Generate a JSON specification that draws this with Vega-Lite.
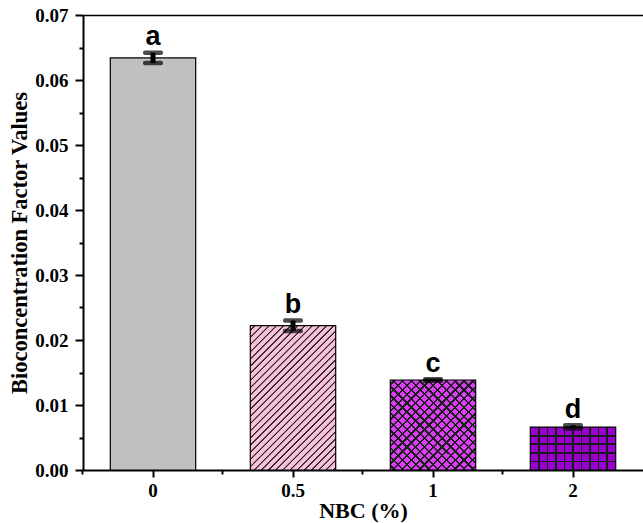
{
  "$schema": "https://vega.github.io/schema/vega-lite/v6.json",
  "width": 560,
  "height": 455,
  "autosize": {"type": "none"},
  "padding": {"left": 83, "top": 15, "right": 0, "bottom": 53},
  "background": "white",
  "config": {
    "view": {"stroke": null},
    "axis": {"domainColor": "black", "tickColor": "black", "labelColor": "black", "titleColor": "black", "grid": false}
  },
  "data": {
    "values": [
      {"NBC": "0", "BCF": 0.0634, "lo": 0.0626, "hi": 0.0642, "group": "a"},
      {"NBC": "0.5", "BCF": 0.0222, "lo": 0.0214, "hi": 0.0230, "group": "b"},
      {"NBC": "1", "BCF": 0.01385, "lo": 0.01375, "hi": 0.01395, "group": "c"},
      {"NBC": "2", "BCF": 0.0066, "lo": 0.0064, "hi": 0.0069, "group": "d"}
    ]
  },
  "encoding": {
    "x": {"field": "NBC", "type": "ordinal", "sort": null, "axis": null,
          "scale": {"domain": ["0", "0.5", "1", "2"], "paddingInner": 0.39, "paddingOuter": 0.195}},
    "y": {"field": "BCF", "type": "quantitative", "axis": null,
          "scale": {"domain": [0, 0.07], "nice": false}}
  },
  "resolve": {"axis": {"x": "independent", "y": "independent"}},
  "layer": [
    {
      "mark": {"type": "bar", "strokeWidth": 0},
      "encoding": {
        "x": {"field": "NBC", "type": "ordinal", "sort": null,
              "axis": {"orient": "bottom", "labelAngle": 0, "tickSize": 7, "tickWidth": 2, "domainWidth": 2,
                       "labelFont": "Liberation Serif", "labelFontWeight": "bold", "labelFontSize": 19, "labelPadding": 4,
                       "title": "NBC (%)", "titleFont": "Liberation Serif", "titleFontWeight": "bold", "titleFontSize": 22, "titlePadding": 0}},
        "y": {"field": "BCF", "type": "quantitative",
              "axis": {"orient": "left", "values": [0, 0.01, 0.02, 0.03, 0.04, 0.05, 0.06, 0.07], "format": ".2f",
                       "tickSize": 8, "tickWidth": 2, "domainWidth": 2,
                       "labelFont": "Liberation Serif", "labelFontWeight": "bold", "labelFontSize": 19, "labelPadding": 7,
                       "labelFlush": false, "labelOverlap": false,
                       "title": "Bioconcentration Factor Values", "titleFont": "Liberation Serif", "titleFontWeight": "bold",
                       "titleFontSize": 22.5, "titlePadding": 3}},
        "color": {"field": "NBC", "type": "nominal", "sort": null, "legend": null,
                  "scale": {"domain": ["0", "0.5", "1", "2"], "range": ["#C0C0C0", "#F8C0DA", "#DC3EF6", "#9A00CF"]}}
      }
    },
    {
      "transform": [{"filter": "datum.NBC == '0.5'"}],
      "mark": {"type": "bar", "fill": {"gradient": "linear", "x1": 0, "y1": 0, "x2": 0.698, "y2": 1.179, "stops": [
        {"offset": 0, "color": "rgba(0,0,0,0)"},
        {"offset": 0.015, "color": "rgba(0,0,0,0)"}, {"offset": 0.018, "color": "#222222"}, {"offset": 0.022, "color": "#222222"}, {"offset": 0.025, "color": "rgba(0,0,0,0)"},
        {"offset": 0.0775, "color": "rgba(0,0,0,0)"}, {"offset": 0.0805, "color": "#222222"}, {"offset": 0.0845, "color": "#222222"}, {"offset": 0.0875, "color": "rgba(0,0,0,0)"},
        {"offset": 0.14, "color": "rgba(0,0,0,0)"}, {"offset": 0.143, "color": "#222222"}, {"offset": 0.147, "color": "#222222"}, {"offset": 0.15, "color": "rgba(0,0,0,0)"},
        {"offset": 0.2025, "color": "rgba(0,0,0,0)"}, {"offset": 0.2055, "color": "#222222"}, {"offset": 0.2095, "color": "#222222"}, {"offset": 0.2125, "color": "rgba(0,0,0,0)"},
        {"offset": 0.265, "color": "rgba(0,0,0,0)"}, {"offset": 0.268, "color": "#222222"}, {"offset": 0.272, "color": "#222222"}, {"offset": 0.275, "color": "rgba(0,0,0,0)"},
        {"offset": 0.3275, "color": "rgba(0,0,0,0)"}, {"offset": 0.3305, "color": "#222222"}, {"offset": 0.3345, "color": "#222222"}, {"offset": 0.3375, "color": "rgba(0,0,0,0)"},
        {"offset": 0.39, "color": "rgba(0,0,0,0)"}, {"offset": 0.393, "color": "#222222"}, {"offset": 0.397, "color": "#222222"}, {"offset": 0.40, "color": "rgba(0,0,0,0)"},
        {"offset": 0.4525, "color": "rgba(0,0,0,0)"}, {"offset": 0.4555, "color": "#222222"}, {"offset": 0.4595, "color": "#222222"}, {"offset": 0.4625, "color": "rgba(0,0,0,0)"},
        {"offset": 0.515, "color": "rgba(0,0,0,0)"}, {"offset": 0.518, "color": "#222222"}, {"offset": 0.522, "color": "#222222"}, {"offset": 0.525, "color": "rgba(0,0,0,0)"},
        {"offset": 0.5775, "color": "rgba(0,0,0,0)"}, {"offset": 0.5805, "color": "#222222"}, {"offset": 0.5845, "color": "#222222"}, {"offset": 0.5875, "color": "rgba(0,0,0,0)"},
        {"offset": 0.64, "color": "rgba(0,0,0,0)"}, {"offset": 0.643, "color": "#222222"}, {"offset": 0.647, "color": "#222222"}, {"offset": 0.65, "color": "rgba(0,0,0,0)"},
        {"offset": 0.7025, "color": "rgba(0,0,0,0)"}, {"offset": 0.7055, "color": "#222222"}, {"offset": 0.7095, "color": "#222222"}, {"offset": 0.7125, "color": "rgba(0,0,0,0)"},
        {"offset": 0.765, "color": "rgba(0,0,0,0)"}, {"offset": 0.768, "color": "#222222"}, {"offset": 0.772, "color": "#222222"}, {"offset": 0.775, "color": "rgba(0,0,0,0)"},
        {"offset": 0.8275, "color": "rgba(0,0,0,0)"}, {"offset": 0.8305, "color": "#222222"}, {"offset": 0.8345, "color": "#222222"}, {"offset": 0.8375, "color": "rgba(0,0,0,0)"},
        {"offset": 0.89, "color": "rgba(0,0,0,0)"}, {"offset": 0.893, "color": "#222222"}, {"offset": 0.897, "color": "#222222"}, {"offset": 0.90, "color": "rgba(0,0,0,0)"},
        {"offset": 0.9525, "color": "rgba(0,0,0,0)"}, {"offset": 0.9555, "color": "#222222"}, {"offset": 0.9595, "color": "#222222"}, {"offset": 0.9625, "color": "rgba(0,0,0,0)"},
        {"offset": 1, "color": "rgba(0,0,0,0)"}
      ]}}
    },
    {
      "transform": [{"filter": "datum.NBC == '0.5'"}],
      "mark": {"type": "bar", "fill": {"gradient": "linear", "x1": 0, "y1": 0, "x2": 0.698, "y2": 1.179, "stops": [
        {"offset": 0, "color": "rgba(0,0,0,0)"},
        {"offset": 0.04625, "color": "rgba(0,0,0,0)"}, {"offset": 0.04925, "color": "#222222"}, {"offset": 0.05325, "color": "#222222"}, {"offset": 0.05625, "color": "rgba(0,0,0,0)"},
        {"offset": 0.10875, "color": "rgba(0,0,0,0)"}, {"offset": 0.11175, "color": "#222222"}, {"offset": 0.11575, "color": "#222222"}, {"offset": 0.11875, "color": "rgba(0,0,0,0)"},
        {"offset": 0.17125, "color": "rgba(0,0,0,0)"}, {"offset": 0.17425, "color": "#222222"}, {"offset": 0.17825, "color": "#222222"}, {"offset": 0.18125, "color": "rgba(0,0,0,0)"},
        {"offset": 0.23375, "color": "rgba(0,0,0,0)"}, {"offset": 0.23675, "color": "#222222"}, {"offset": 0.24075, "color": "#222222"}, {"offset": 0.24375, "color": "rgba(0,0,0,0)"},
        {"offset": 0.29625, "color": "rgba(0,0,0,0)"}, {"offset": 0.29925, "color": "#222222"}, {"offset": 0.30325, "color": "#222222"}, {"offset": 0.30625, "color": "rgba(0,0,0,0)"},
        {"offset": 0.35875, "color": "rgba(0,0,0,0)"}, {"offset": 0.36175, "color": "#222222"}, {"offset": 0.36575, "color": "#222222"}, {"offset": 0.36875, "color": "rgba(0,0,0,0)"},
        {"offset": 0.42125, "color": "rgba(0,0,0,0)"}, {"offset": 0.42425, "color": "#222222"}, {"offset": 0.42825, "color": "#222222"}, {"offset": 0.43125, "color": "rgba(0,0,0,0)"},
        {"offset": 0.48375, "color": "rgba(0,0,0,0)"}, {"offset": 0.48675, "color": "#222222"}, {"offset": 0.49075, "color": "#222222"}, {"offset": 0.49375, "color": "rgba(0,0,0,0)"},
        {"offset": 0.54625, "color": "rgba(0,0,0,0)"}, {"offset": 0.54925, "color": "#222222"}, {"offset": 0.55325, "color": "#222222"}, {"offset": 0.55625, "color": "rgba(0,0,0,0)"},
        {"offset": 0.60875, "color": "rgba(0,0,0,0)"}, {"offset": 0.61175, "color": "#222222"}, {"offset": 0.61575, "color": "#222222"}, {"offset": 0.61875, "color": "rgba(0,0,0,0)"},
        {"offset": 0.67125, "color": "rgba(0,0,0,0)"}, {"offset": 0.67425, "color": "#222222"}, {"offset": 0.67825, "color": "#222222"}, {"offset": 0.68125, "color": "rgba(0,0,0,0)"},
        {"offset": 0.73375, "color": "rgba(0,0,0,0)"}, {"offset": 0.73675, "color": "#222222"}, {"offset": 0.74075, "color": "#222222"}, {"offset": 0.74375, "color": "rgba(0,0,0,0)"},
        {"offset": 0.79625, "color": "rgba(0,0,0,0)"}, {"offset": 0.79925, "color": "#222222"}, {"offset": 0.80325, "color": "#222222"}, {"offset": 0.80625, "color": "rgba(0,0,0,0)"},
        {"offset": 0.85875, "color": "rgba(0,0,0,0)"}, {"offset": 0.86175, "color": "#222222"}, {"offset": 0.86575, "color": "#222222"}, {"offset": 0.86875, "color": "rgba(0,0,0,0)"},
        {"offset": 0.92125, "color": "rgba(0,0,0,0)"}, {"offset": 0.92425, "color": "#222222"}, {"offset": 0.92825, "color": "#222222"}, {"offset": 0.93125, "color": "rgba(0,0,0,0)"},
        {"offset": 0.98375, "color": "rgba(0,0,0,0)"}, {"offset": 0.98675, "color": "#222222"}, {"offset": 0.99075, "color": "#222222"}, {"offset": 0.99375, "color": "rgba(0,0,0,0)"},
        {"offset": 1, "color": "rgba(0,0,0,0)"}
      ]}}
    },
    {
      "transform": [{"filter": "datum.NBC == '1'"}],
      "mark": {"type": "bar", "fill": {"gradient": "linear", "x1": 0, "y1": 0, "x2": 0.973, "y2": 1.026, "stops": [
        {"offset": 0, "color": "rgba(0,0,0,0)"},
        {"offset": 0.020, "color": "rgba(0,0,0,0)"}, {"offset": 0.020, "color": "#1f1f1f"}, {"offset": 0.033, "color": "#1f1f1f"}, {"offset": 0.033, "color": "rgba(0,0,0,0)"},
        {"offset": 0.070, "color": "rgba(0,0,0,0)"}, {"offset": 0.070, "color": "#1f1f1f"}, {"offset": 0.083, "color": "#1f1f1f"}, {"offset": 0.083, "color": "rgba(0,0,0,0)"},
        {"offset": 0.120, "color": "rgba(0,0,0,0)"}, {"offset": 0.120, "color": "#1f1f1f"}, {"offset": 0.133, "color": "#1f1f1f"}, {"offset": 0.133, "color": "rgba(0,0,0,0)"},
        {"offset": 0.170, "color": "rgba(0,0,0,0)"}, {"offset": 0.170, "color": "#1f1f1f"}, {"offset": 0.183, "color": "#1f1f1f"}, {"offset": 0.183, "color": "rgba(0,0,0,0)"},
        {"offset": 0.220, "color": "rgba(0,0,0,0)"}, {"offset": 0.220, "color": "#1f1f1f"}, {"offset": 0.233, "color": "#1f1f1f"}, {"offset": 0.233, "color": "rgba(0,0,0,0)"},
        {"offset": 0.270, "color": "rgba(0,0,0,0)"}, {"offset": 0.270, "color": "#1f1f1f"}, {"offset": 0.283, "color": "#1f1f1f"}, {"offset": 0.283, "color": "rgba(0,0,0,0)"},
        {"offset": 0.320, "color": "rgba(0,0,0,0)"}, {"offset": 0.320, "color": "#1f1f1f"}, {"offset": 0.333, "color": "#1f1f1f"}, {"offset": 0.333, "color": "rgba(0,0,0,0)"},
        {"offset": 0.370, "color": "rgba(0,0,0,0)"}, {"offset": 0.370, "color": "#1f1f1f"}, {"offset": 0.383, "color": "#1f1f1f"}, {"offset": 0.383, "color": "rgba(0,0,0,0)"},
        {"offset": 0.420, "color": "rgba(0,0,0,0)"}, {"offset": 0.420, "color": "#1f1f1f"}, {"offset": 0.433, "color": "#1f1f1f"}, {"offset": 0.433, "color": "rgba(0,0,0,0)"},
        {"offset": 0.470, "color": "rgba(0,0,0,0)"}, {"offset": 0.470, "color": "#1f1f1f"}, {"offset": 0.483, "color": "#1f1f1f"}, {"offset": 0.483, "color": "rgba(0,0,0,0)"},
        {"offset": 0.520, "color": "rgba(0,0,0,0)"}, {"offset": 0.520, "color": "#1f1f1f"}, {"offset": 0.533, "color": "#1f1f1f"}, {"offset": 0.533, "color": "rgba(0,0,0,0)"},
        {"offset": 0.570, "color": "rgba(0,0,0,0)"}, {"offset": 0.570, "color": "#1f1f1f"}, {"offset": 0.583, "color": "#1f1f1f"}, {"offset": 0.583, "color": "rgba(0,0,0,0)"},
        {"offset": 0.620, "color": "rgba(0,0,0,0)"}, {"offset": 0.620, "color": "#1f1f1f"}, {"offset": 0.633, "color": "#1f1f1f"}, {"offset": 0.633, "color": "rgba(0,0,0,0)"},
        {"offset": 0.670, "color": "rgba(0,0,0,0)"}, {"offset": 0.670, "color": "#1f1f1f"}, {"offset": 0.683, "color": "#1f1f1f"}, {"offset": 0.683, "color": "rgba(0,0,0,0)"},
        {"offset": 0.720, "color": "rgba(0,0,0,0)"}, {"offset": 0.720, "color": "#1f1f1f"}, {"offset": 0.733, "color": "#1f1f1f"}, {"offset": 0.733, "color": "rgba(0,0,0,0)"},
        {"offset": 0.770, "color": "rgba(0,0,0,0)"}, {"offset": 0.770, "color": "#1f1f1f"}, {"offset": 0.783, "color": "#1f1f1f"}, {"offset": 0.783, "color": "rgba(0,0,0,0)"},
        {"offset": 0.820, "color": "rgba(0,0,0,0)"}, {"offset": 0.820, "color": "#1f1f1f"}, {"offset": 0.833, "color": "#1f1f1f"}, {"offset": 0.833, "color": "rgba(0,0,0,0)"},
        {"offset": 0.870, "color": "rgba(0,0,0,0)"}, {"offset": 0.870, "color": "#1f1f1f"}, {"offset": 0.883, "color": "#1f1f1f"}, {"offset": 0.883, "color": "rgba(0,0,0,0)"},
        {"offset": 0.920, "color": "rgba(0,0,0,0)"}, {"offset": 0.920, "color": "#1f1f1f"}, {"offset": 0.933, "color": "#1f1f1f"}, {"offset": 0.933, "color": "rgba(0,0,0,0)"},
        {"offset": 0.970, "color": "rgba(0,0,0,0)"}, {"offset": 0.970, "color": "#1f1f1f"}, {"offset": 0.983, "color": "#1f1f1f"}, {"offset": 0.983, "color": "rgba(0,0,0,0)"},
        {"offset": 1, "color": "rgba(0,0,0,0)"}
      ]}}
    },
    {
      "transform": [{"filter": "datum.NBC == '1'"}],
      "mark": {"type": "bar", "fill": {"gradient": "linear", "x1": 0, "y1": 1, "x2": 0.973, "y2": -0.026, "stops": [
        {"offset": 0, "color": "rgba(0,0,0,0)"},
        {"offset": 0.020, "color": "rgba(0,0,0,0)"}, {"offset": 0.020, "color": "#1f1f1f"}, {"offset": 0.033, "color": "#1f1f1f"}, {"offset": 0.033, "color": "rgba(0,0,0,0)"},
        {"offset": 0.070, "color": "rgba(0,0,0,0)"}, {"offset": 0.070, "color": "#1f1f1f"}, {"offset": 0.083, "color": "#1f1f1f"}, {"offset": 0.083, "color": "rgba(0,0,0,0)"},
        {"offset": 0.120, "color": "rgba(0,0,0,0)"}, {"offset": 0.120, "color": "#1f1f1f"}, {"offset": 0.133, "color": "#1f1f1f"}, {"offset": 0.133, "color": "rgba(0,0,0,0)"},
        {"offset": 0.170, "color": "rgba(0,0,0,0)"}, {"offset": 0.170, "color": "#1f1f1f"}, {"offset": 0.183, "color": "#1f1f1f"}, {"offset": 0.183, "color": "rgba(0,0,0,0)"},
        {"offset": 0.220, "color": "rgba(0,0,0,0)"}, {"offset": 0.220, "color": "#1f1f1f"}, {"offset": 0.233, "color": "#1f1f1f"}, {"offset": 0.233, "color": "rgba(0,0,0,0)"},
        {"offset": 0.270, "color": "rgba(0,0,0,0)"}, {"offset": 0.270, "color": "#1f1f1f"}, {"offset": 0.283, "color": "#1f1f1f"}, {"offset": 0.283, "color": "rgba(0,0,0,0)"},
        {"offset": 0.320, "color": "rgba(0,0,0,0)"}, {"offset": 0.320, "color": "#1f1f1f"}, {"offset": 0.333, "color": "#1f1f1f"}, {"offset": 0.333, "color": "rgba(0,0,0,0)"},
        {"offset": 0.370, "color": "rgba(0,0,0,0)"}, {"offset": 0.370, "color": "#1f1f1f"}, {"offset": 0.383, "color": "#1f1f1f"}, {"offset": 0.383, "color": "rgba(0,0,0,0)"},
        {"offset": 0.420, "color": "rgba(0,0,0,0)"}, {"offset": 0.420, "color": "#1f1f1f"}, {"offset": 0.433, "color": "#1f1f1f"}, {"offset": 0.433, "color": "rgba(0,0,0,0)"},
        {"offset": 0.470, "color": "rgba(0,0,0,0)"}, {"offset": 0.470, "color": "#1f1f1f"}, {"offset": 0.483, "color": "#1f1f1f"}, {"offset": 0.483, "color": "rgba(0,0,0,0)"},
        {"offset": 0.520, "color": "rgba(0,0,0,0)"}, {"offset": 0.520, "color": "#1f1f1f"}, {"offset": 0.533, "color": "#1f1f1f"}, {"offset": 0.533, "color": "rgba(0,0,0,0)"},
        {"offset": 0.570, "color": "rgba(0,0,0,0)"}, {"offset": 0.570, "color": "#1f1f1f"}, {"offset": 0.583, "color": "#1f1f1f"}, {"offset": 0.583, "color": "rgba(0,0,0,0)"},
        {"offset": 0.620, "color": "rgba(0,0,0,0)"}, {"offset": 0.620, "color": "#1f1f1f"}, {"offset": 0.633, "color": "#1f1f1f"}, {"offset": 0.633, "color": "rgba(0,0,0,0)"},
        {"offset": 0.670, "color": "rgba(0,0,0,0)"}, {"offset": 0.670, "color": "#1f1f1f"}, {"offset": 0.683, "color": "#1f1f1f"}, {"offset": 0.683, "color": "rgba(0,0,0,0)"},
        {"offset": 0.720, "color": "rgba(0,0,0,0)"}, {"offset": 0.720, "color": "#1f1f1f"}, {"offset": 0.733, "color": "#1f1f1f"}, {"offset": 0.733, "color": "rgba(0,0,0,0)"},
        {"offset": 0.770, "color": "rgba(0,0,0,0)"}, {"offset": 0.770, "color": "#1f1f1f"}, {"offset": 0.783, "color": "#1f1f1f"}, {"offset": 0.783, "color": "rgba(0,0,0,0)"},
        {"offset": 0.820, "color": "rgba(0,0,0,0)"}, {"offset": 0.820, "color": "#1f1f1f"}, {"offset": 0.833, "color": "#1f1f1f"}, {"offset": 0.833, "color": "rgba(0,0,0,0)"},
        {"offset": 0.870, "color": "rgba(0,0,0,0)"}, {"offset": 0.870, "color": "#1f1f1f"}, {"offset": 0.883, "color": "#1f1f1f"}, {"offset": 0.883, "color": "rgba(0,0,0,0)"},
        {"offset": 0.920, "color": "rgba(0,0,0,0)"}, {"offset": 0.920, "color": "#1f1f1f"}, {"offset": 0.933, "color": "#1f1f1f"}, {"offset": 0.933, "color": "rgba(0,0,0,0)"},
        {"offset": 0.970, "color": "rgba(0,0,0,0)"}, {"offset": 0.970, "color": "#1f1f1f"}, {"offset": 0.983, "color": "#1f1f1f"}, {"offset": 0.983, "color": "rgba(0,0,0,0)"},
        {"offset": 1, "color": "rgba(0,0,0,0)"}
      ]}}
    },
    {
      "transform": [{"filter": "datum.NBC == '2'"}],
      "mark": {"type": "bar", "fill": {"gradient": "linear", "x1": 0, "y1": 0, "x2": 1, "y2": 0, "stops": [
        {"offset": 0, "color": "rgba(0,0,0,0)"},
        {"offset": 0.09, "color": "rgba(0,0,0,0)"}, {"offset": 0.09, "color": "#1a1a1a"}, {"offset": 0.11, "color": "#1a1a1a"}, {"offset": 0.11, "color": "rgba(0,0,0,0)"},
        {"offset": 0.19, "color": "rgba(0,0,0,0)"}, {"offset": 0.19, "color": "#1a1a1a"}, {"offset": 0.21, "color": "#1a1a1a"}, {"offset": 0.21, "color": "rgba(0,0,0,0)"},
        {"offset": 0.29, "color": "rgba(0,0,0,0)"}, {"offset": 0.29, "color": "#1a1a1a"}, {"offset": 0.31, "color": "#1a1a1a"}, {"offset": 0.31, "color": "rgba(0,0,0,0)"},
        {"offset": 0.39, "color": "rgba(0,0,0,0)"}, {"offset": 0.39, "color": "#1a1a1a"}, {"offset": 0.41, "color": "#1a1a1a"}, {"offset": 0.41, "color": "rgba(0,0,0,0)"},
        {"offset": 0.49, "color": "rgba(0,0,0,0)"}, {"offset": 0.49, "color": "#1a1a1a"}, {"offset": 0.51, "color": "#1a1a1a"}, {"offset": 0.51, "color": "rgba(0,0,0,0)"},
        {"offset": 0.59, "color": "rgba(0,0,0,0)"}, {"offset": 0.59, "color": "#1a1a1a"}, {"offset": 0.61, "color": "#1a1a1a"}, {"offset": 0.61, "color": "rgba(0,0,0,0)"},
        {"offset": 0.69, "color": "rgba(0,0,0,0)"}, {"offset": 0.69, "color": "#1a1a1a"}, {"offset": 0.71, "color": "#1a1a1a"}, {"offset": 0.71, "color": "rgba(0,0,0,0)"},
        {"offset": 0.79, "color": "rgba(0,0,0,0)"}, {"offset": 0.79, "color": "#1a1a1a"}, {"offset": 0.81, "color": "#1a1a1a"}, {"offset": 0.81, "color": "rgba(0,0,0,0)"},
        {"offset": 0.89, "color": "rgba(0,0,0,0)"}, {"offset": 0.89, "color": "#1a1a1a"}, {"offset": 0.91, "color": "#1a1a1a"}, {"offset": 0.91, "color": "rgba(0,0,0,0)"},
        {"offset": 1, "color": "rgba(0,0,0,0)"}
      ]}}
    },
    {
      "transform": [{"filter": "datum.NBC == '2'"}],
      "mark": {"type": "bar", "fill": {"gradient": "linear", "x1": 0, "y1": 0, "x2": 0, "y2": 1, "stops": [
        {"offset": 0, "color": "rgba(0,0,0,0)"},
        {"offset": 0.18, "color": "rgba(0,0,0,0)"}, {"offset": 0.18, "color": "#1a1a1a"}, {"offset": 0.22, "color": "#1a1a1a"}, {"offset": 0.22, "color": "rgba(0,0,0,0)"},
        {"offset": 0.38, "color": "rgba(0,0,0,0)"}, {"offset": 0.38, "color": "#1a1a1a"}, {"offset": 0.42, "color": "#1a1a1a"}, {"offset": 0.42, "color": "rgba(0,0,0,0)"},
        {"offset": 0.58, "color": "rgba(0,0,0,0)"}, {"offset": 0.58, "color": "#1a1a1a"}, {"offset": 0.62, "color": "#1a1a1a"}, {"offset": 0.62, "color": "rgba(0,0,0,0)"},
        {"offset": 0.78, "color": "rgba(0,0,0,0)"}, {"offset": 0.78, "color": "#1a1a1a"}, {"offset": 0.82, "color": "#1a1a1a"}, {"offset": 0.82, "color": "rgba(0,0,0,0)"},
        {"offset": 1, "color": "rgba(0,0,0,0)"}
      ]}}
    },
    {
      "mark": {"type": "bar", "fillOpacity": 0, "stroke": "black", "strokeWidth": 1.2},
      "encoding": {
        "x": {"field": "NBC", "type": "ordinal", "sort": null,
              "axis": {"orient": "bottom", "bandPosition": -0.32, "tickSize": 4, "tickWidth": 2,
                       "labels": false, "domain": false, "title": null}},
        "y": {"field": "BCF", "type": "quantitative",
              "axis": {"orient": "left", "values": [0.005, 0.015, 0.025, 0.035, 0.045, 0.055, 0.065],
                       "tickSize": 4, "tickWidth": 2, "labels": false, "domain": false, "title": null}}
      }
    },
    {
      "mark": {"type": "rule", "strokeWidth": 5, "color": "black"},
      "encoding": {
        "y": {"field": "lo", "type": "quantitative", "axis": null},
        "y2": {"field": "hi"}
      }
    },
    {
      "mark": {"type": "tick", "size": 20, "thickness": 4.5, "color": "black", "cornerRadius": 2},
      "encoding": {"y": {"field": "hi", "type": "quantitative", "axis": null}}
    },
    {
      "mark": {"type": "tick", "size": 20, "thickness": 4.5, "color": "black", "cornerRadius": 2},
      "encoding": {"y": {"field": "lo", "type": "quantitative", "axis": null}}
    },
    {
      "mark": {"type": "text", "font": "Liberation Sans", "fontWeight": "bold", "fontSize": 27,
               "baseline": "alphabetic", "dy": -7.5, "color": "black"},
      "encoding": {
        "x": {"field": "NBC", "type": "ordinal", "sort": null,
              "axis": {"orient": "top", "ticks": false, "labels": false, "domain": true, "domainWidth": 1.5, "title": null}},
        "y": {"field": "hi", "type": "quantitative", "axis": null},
        "text": {"field": "group"}
      }
    }
  ]
}
